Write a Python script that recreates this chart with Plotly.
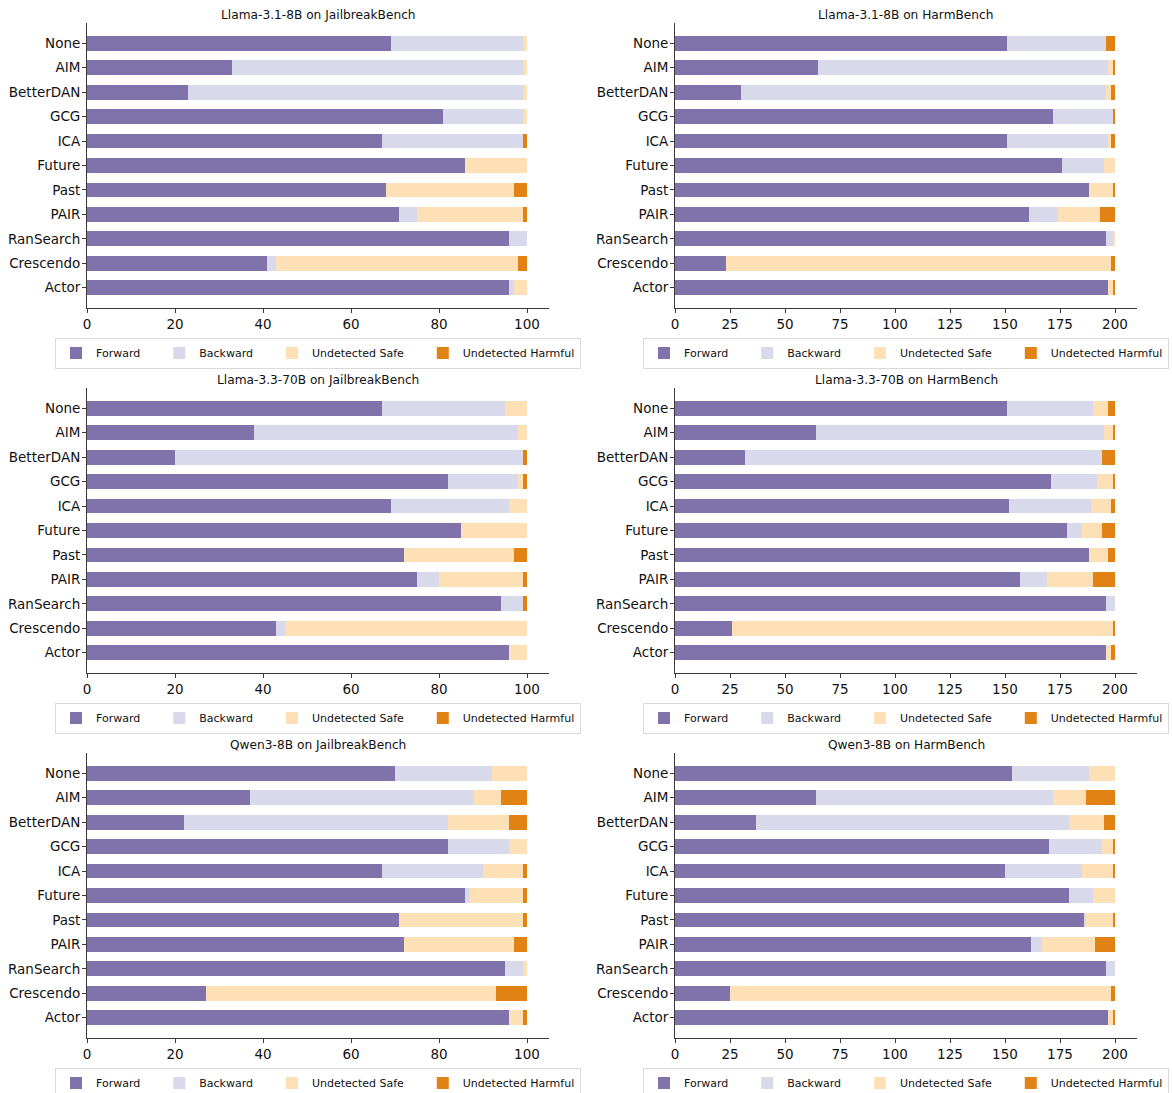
import plotly.graph_objects as go

categories = ["None", "AIM", "BetterDAN", "GCG", "ICA", "Future", "Past",
              "PAIR", "RanSearch", "Crescendo", "Actor"]
series_names = ["Forward", "Backward", "Undetected Safe", "Undetected Harmful"]
series_colors = ["#8073ac", "#d8daeb", "#fee0b6", "#e08214"]

titles = ["Llama-3.1-8B on JailbreakBench", "Llama-3.1-8B on HarmBench",
          "Llama-3.3-70B on JailbreakBench", "Llama-3.3-70B on HarmBench",
          "Qwen3-8B on JailbreakBench", "Qwen3-8B on HarmBench"]

# Llama-3.1-8B, JailbreakBench
l31_jbb_fwd = [69, 33, 23, 81, 67, 86, 68, 71, 96, 41, 96]
l31_jbb_bwd = [30, 66, 76, 18, 32, 0, 0, 4, 4, 2, 1]
l31_jbb_safe = [1, 1, 1, 1, 0, 14, 29, 24, 0, 55, 3]
l31_jbb_harm = [0, 0, 0, 0, 1, 0, 3, 1, 0, 2, 0]
# Llama-3.1-8B, HarmBench
l31_hb_fwd = [151, 65, 30, 172, 151, 176, 188, 161, 196, 23, 197]
l31_hb_bwd = [45, 132, 166, 27, 46, 19, 0, 13, 3, 0, 0]
l31_hb_safe = [0, 2, 2, 0, 1, 5, 11, 19, 1, 175, 2]
l31_hb_harm = [4, 1, 2, 1, 2, 0, 1, 7, 0, 2, 1]
# Llama-3.3-70B, JailbreakBench
l33_jbb_fwd = [67, 38, 20, 82, 69, 85, 72, 75, 94, 43, 96]
l33_jbb_bwd = [28, 60, 79, 16, 27, 0, 0, 5, 5, 2, 0]
l33_jbb_safe = [5, 2, 0, 1, 4, 15, 25, 19, 0, 55, 4]
l33_jbb_harm = [0, 0, 1, 1, 0, 0, 3, 1, 1, 0, 0]
# Llama-3.3-70B, HarmBench
l33_hb_fwd = [151, 64, 32, 171, 152, 178, 188, 157, 196, 26, 196]
l33_hb_bwd = [39, 131, 162, 21, 37, 7, 0, 12, 4, 0, 0]
l33_hb_safe = [7, 4, 0, 7, 9, 9, 9, 21, 0, 173, 2]
l33_hb_harm = [3, 1, 6, 1, 2, 6, 3, 10, 0, 1, 2]
# Qwen3-8B, JailbreakBench
q3_jbb_fwd = [70, 37, 22, 82, 67, 86, 71, 72, 95, 27, 96]
q3_jbb_bwd = [22, 51, 60, 14, 23, 1, 0, 0, 4, 0, 0]
q3_jbb_safe = [8, 6, 14, 4, 9, 12, 28, 25, 1, 66, 3]
q3_jbb_harm = [0, 6, 4, 0, 1, 1, 1, 3, 0, 7, 1]
# Qwen3-8B, HarmBench
q3_hb_fwd = [153, 64, 37, 170, 150, 179, 186, 162, 196, 25, 197]
q3_hb_bwd = [35, 108, 142, 24, 35, 11, 1, 5, 4, 0, 0]
q3_hb_safe = [12, 15, 16, 5, 14, 10, 12, 24, 0, 173, 2]
q3_hb_harm = [0, 13, 5, 1, 1, 0, 1, 9, 0, 2, 1]

panels = [
    [l31_jbb_fwd, l31_jbb_bwd, l31_jbb_safe, l31_jbb_harm],
    [l31_hb_fwd, l31_hb_bwd, l31_hb_safe, l31_hb_harm],
    [l33_jbb_fwd, l33_jbb_bwd, l33_jbb_safe, l33_jbb_harm],
    [l33_hb_fwd, l33_hb_bwd, l33_hb_safe, l33_hb_harm],
    [q3_jbb_fwd, q3_jbb_bwd, q3_jbb_safe, q3_jbb_harm],
    [q3_hb_fwd, q3_hb_bwd, q3_hb_safe, q3_hb_harm],
]
x_max = [105, 210, 105, 210, 105, 210]

W, H = 1172, 1093
FONT = "DejaVu Sans"
AX = "#3a3a3a"
PAD = "\u00a0" * 4  # extra spacing between legend entries

col_px = [(87, 549), (675, 1137)]
row_px = [(23, 308), (388, 673), (753, 1038)]
legend_y_px = [353, 718, 1083]
title_y_px = [15, 380, 745]

fig = go.Figure()
layout = dict(
    width=W, height=H, margin=dict(l=0, r=0, t=0, b=0, autoexpand=False),
    paper_bgcolor="white", plot_bgcolor="white",
    barmode="stack", bargap=0.4,
    font=dict(family=FONT, color="#111", size=13),
    annotations=[],
)

n = len(categories)
for i, data in enumerate(panels):
    r, c = divmod(i, 2)
    k = "" if i == 0 else str(i + 1)
    leg = "legend" + k
    for s in range(4):
        label = series_names[s] + (PAD if s < 3 else "")
        fig.add_trace(go.Bar(
            y=categories, x=data[s], orientation="h",
            name=label,
            marker=dict(color=series_colors[s], line=dict(width=0)),
            xaxis="x" + k, yaxis="y" + k, legend=leg,
            showlegend=True,
        ))
    x0, x1 = col_px[c]
    y0, y1 = row_px[r]
    layout["xaxis" + k] = dict(
        domain=[x0 / W, x1 / W], anchor="y" + k, range=[0, x_max[i]],
        automargin=False,
        showgrid=False, zeroline=False, showline=True, linecolor=AX, linewidth=1,
        ticks="outside", ticklen=4, tickcolor=AX, tickwidth=1,
        tickfont=dict(size=13.5, family=FONT, color="#111"),
        dtick=20 if x_max[i] < 150 else 25, fixedrange=True,
    )
    layout["yaxis" + k] = dict(
        domain=[1 - y1 / H, 1 - y0 / H], anchor="x" + k,
        automargin=False,
        type="category", categoryorder="array", categoryarray=categories,
        range=[n - 1 + 0.83, -0.83],
        showgrid=False, zeroline=False, showline=True, linecolor=AX, linewidth=1,
        ticks="outside", ticklen=4, tickcolor=AX, tickwidth=1,
        ticklabelstandoff=-1,
        tickfont=dict(size=13.5, family=FONT, color="#111"),
        fixedrange=True,
    )
    layout[leg] = dict(
        orientation="h", x=(x0 + x1) / 2 / W, xanchor="center",
        y=1 - legend_y_px[r] / H, yanchor="middle",
        bgcolor="white", bordercolor="#d9d9d9", borderwidth=1,
        font=dict(size=11, family=FONT, color="#111"),
        tracegroupgap=0,
        itemclick=False, itemdoubleclick=False, traceorder="normal",
    )
    layout["annotations"].append(dict(
        text=titles[i], x=(x0 + x1) / 2 / W, y=1 - title_y_px[r] / H,
        xref="paper", yref="paper", xanchor="center", yanchor="middle",
        showarrow=False, font=dict(size=12.2, family=FONT, color="#111"),
    ))

fig.update_layout(**layout)
fig.write_html("out.html")
